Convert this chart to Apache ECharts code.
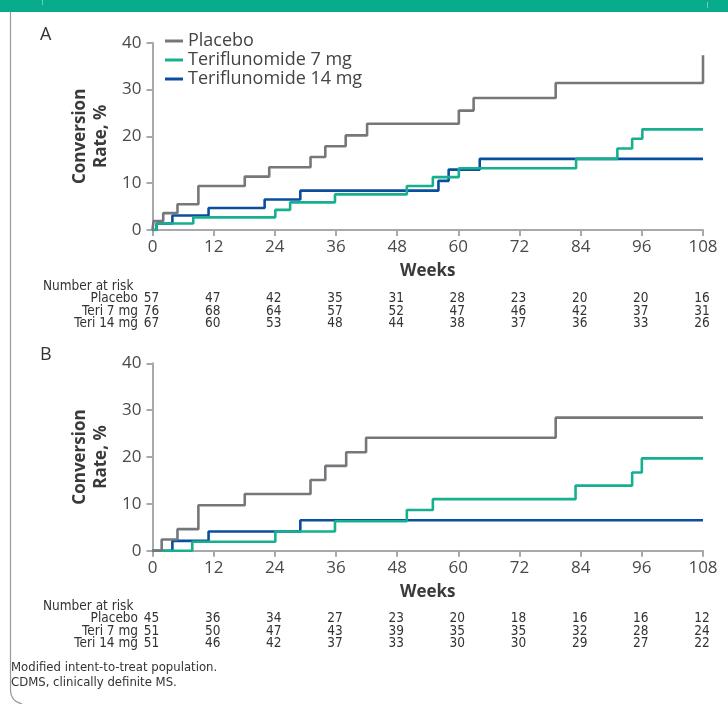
<!DOCTYPE html>
<html><head><meta charset="utf-8">
<script src="https://cdn.jsdelivr.net/npm/echarts@6/dist/echarts.min.js"></script>
<style>html,body{margin:0;padding:0;background:#fff}#c{width:728px;height:704px}</style>
</head><body><div id="c"></div>
<script>
// ---------- DATA ----------
const weekTicks = [0, 12, 24, 36, 48, 60, 72, 84, 96, 108];
const seriesNames = ['Placebo', 'Teriflunomide 7 mg', 'Teriflunomide 14 mg'];
const riskLabels = ['Placebo', 'Teri 7 mg', 'Teri 14 mg'];

// Panel A (step points: [week, cumulative conversion rate %])
const placeboA_weeks = [0, 0.2, 2.1, 4.9, 9.0, 18.1, 22.9, 31.0, 33.9, 37.9, 42.1, 60.1, 63.0, 79.1, 108, 108];
const placeboA_rates = [0, 1.9, 3.6, 5.5, 9.4, 11.4, 13.4, 15.6, 17.9, 20.2, 22.7, 25.5, 28.2, 31.4, 31.4, 37.3];
const teri7A_weeks = [0, 0.8, 8.0, 24.1, 27.0, 35.8, 49.9, 55.0, 60.1, 83.1, 91.2, 94.1, 96.1, 108];
const teri7A_rates = [0, 1.4, 2.7, 4.3, 5.9, 7.6, 9.4, 11.3, 13.2, 15.2, 17.4, 19.5, 21.5, 21.5];
const teri14A_weeks = [0, 0.8, 3.9, 11.0, 22.0, 29.0, 56.1, 58.1, 64.2, 108];
const teri14A_rates = [0, 1.4, 3.1, 4.7, 6.5, 8.4, 10.5, 12.9, 15.2, 15.2];

// Panel B
const placeboB_weeks = [0, 1.8, 4.9, 9.0, 18.1, 31.0, 33.9, 38.0, 41.9, 79.1, 108];
const placeboB_rates = [0, 2.4, 4.6, 9.7, 12.1, 15.1, 18.1, 21.0, 24.1, 28.4, 28.4];
const teri7B_weeks = [0, 7.8, 24.1, 35.8, 49.9, 55.0, 83.0, 94.1, 96.0, 108];
const teri7B_rates = [0, 1.9, 4.1, 6.3, 8.7, 11.0, 13.9, 16.7, 19.7, 19.7];
const teri14B_weeks = [0, 3.9, 11.0, 29.0, 108];
const teri14B_rates = [0, 2.1, 4.1, 6.5, 6.5];

// Number at risk
const riskA_placebo = [57, 47, 42, 35, 31, 28, 23, 20, 20, 16];
const riskA_teri7 = [76, 68, 64, 57, 52, 47, 46, 42, 37, 31];
const riskA_teri14 = [67, 60, 53, 48, 44, 38, 37, 36, 33, 26];
const riskB_placebo = [45, 36, 34, 27, 23, 20, 18, 16, 16, 12];
const riskB_teri7 = [51, 50, 47, 43, 39, 35, 35, 32, 28, 24];
const riskB_teri14 = [51, 46, 42, 37, 33, 30, 30, 29, 27, 22];

const footnotes = ['Modified intent-to-treat population.', 'CDMS, clinically definite MS.'];

// ---------- STYLE ----------
const colors = ['#76777a', '#16b08f', '#0a4f9e'];
const FONT = '"Open Sans", Lato, sans-serif';
const NARROW = '"Liberation Sans Narrow", "DejaVu Sans Condensed", sans-serif';

function zip(w, r) { return w.map((x, i) => [x, r[i]]); }

const chart = echarts.init(document.getElementById('c'), null, {renderer: 'canvas'});

function xAxisCfg(gi) {
  return {
    gridIndex: gi, type: 'value', min: 0, max: 108, interval: 12,
    name: 'Weeks', nameLocation: 'middle', nameGap: 33,
    nameTextStyle: {fontFamily: FONT, fontSize: 17, fontWeight: 'bold', color: '#3a3a3a'},
    axisLine: {show: true, lineStyle: {color: '#a9a9ad', width: 2}},
    axisTick: {show: true, length: 6, lineStyle: {color: '#a9a9ad', width: 2}},
    axisLabel: {fontFamily: FONT, fontSize: 17, color: '#4a4a4a', margin: 9},
    splitLine: {show: false}
  };
}
function yAxisCfg(gi) {
  return {
    gridIndex: gi, type: 'value', min: 0, max: 40, interval: 10,
    name: 'Conversion\nRate, %', nameLocation: 'middle', nameGap: 41, nameRotate: 90,
    nameTextStyle: {fontFamily: FONT, fontSize: 17, fontWeight: 'bold', color: '#3a3a3a', lineHeight: 21},
    axisLine: {show: true, lineStyle: {color: '#a9a9ad', width: 2}},
    axisTick: {show: true, length: 6, lineStyle: {color: '#a9a9ad', width: 2}},
    axisLabel: {fontFamily: FONT, fontSize: 17, color: '#4a4a4a', margin: 11},
    splitLine: {show: false}
  };
}
function stepSeries(name, data, gi, ci) {
  return {
    name: name, type: 'line', step: 'end', xAxisIndex: gi, yAxisIndex: gi,
    data: data, symbol: 'none', silent: true, animation: false,
    lineStyle: {color: colors[ci], width: 2.6}, itemStyle: {color: colors[ci]}
  };
}

const series = [
  stepSeries(seriesNames[0], zip(placeboA_weeks, placeboA_rates), 0, 0),
  stepSeries(seriesNames[1], zip(teri7A_weeks, teri7A_rates), 0, 1),
  stepSeries(seriesNames[2], zip(teri14A_weeks, teri14A_rates), 0, 2),
  stepSeries(seriesNames[0], zip(placeboB_weeks, placeboB_rates), 1, 0),
  stepSeries(seriesNames[1], zip(teri7B_weeks, teri7B_rates), 1, 1),
  stepSeries(seriesNames[2], zip(teri14B_weeks, teri14B_rates), 1, 2)
];
series.reverse();

chart.setOption({
  animation: false,
  backgroundColor: '#fff',
  grid: [
    {left: 152.5, right: 25, top: 42.7, height: 187.3},
    {left: 152.5, right: 25, top: 363.3, height: 187.4}
  ],
  xAxis: [xAxisCfg(0), xAxisCfg(1)],
  yAxis: [yAxisCfg(0), yAxisCfg(1)],
  legend: {
    data: seriesNames, orient: 'vertical', left: 160, top: 27,
    itemWidth: 18, itemHeight: 3, itemGap: 1, icon: 'rect',
    textStyle: {fontFamily: FONT, fontSize: 18, color: '#444', lineHeight: 18},
    selectedMode: false
  },
  series: series
});

// ---------- Number-at-risk tables, labels, frame ----------
const g = [];
g.push({type: 'rect', shape: {x: 0, y: 0, width: 728, height: 12}, style: {fill: '#08ab8b'}});
g.push({type: 'rect', shape: {x: 42, y: 0, width: 1, height: 5}, style: {fill: '#6fcdb9'}});
g.push({type: 'rect', shape: {x: 707, y: 2, width: 1, height: 6}, style: {fill: '#6fcdb9'}});
g.push({type: 'line', shape: {x1: 10.5, y1: 12, x2: 10.5, y2: 690}, style: {stroke: '#9a9a9a', lineWidth: 1.2}});
g.push({type: 'bezierCurve', shape: {x1: 10.5, y1: 690, cpx1: 10.5, cpy1: 701, x2: 22, y2: 704}, style: {stroke: '#9a9a9a', lineWidth: 1.2, fill: null}});

g.push({type: 'text', x: 40, y: 35, style: {text: 'A', font: '18px ' + FONT, fill: '#333', textVerticalAlign: 'middle'}});
g.push({type: 'text', x: 40, y: 355, style: {text: 'B', font: '18px ' + FONT, fill: '#333', textVerticalAlign: 'middle'}});

function riskTable(gi, rows, topY) {
  g.push({type: 'text', x: 43, y: topY, style: {text: 'Number at risk', font: '13.5px ' + NARROW, fill: '#333', textVerticalAlign: 'middle'}});
  rows.forEach((vals, ri) => {
    const y = topY + 12.5 * (ri + 1);
    g.push({type: 'text', x: 138, y: y, style: {text: riskLabels[ri], font: '13.5px ' + NARROW, fill: '#333', textAlign: 'right', textVerticalAlign: 'middle'}});
    vals.forEach((v, ci) => {
      const px = chart.convertToPixel({gridIndex: gi}, [weekTicks[ci], 0])[0];
      g.push({type: 'text', x: px - 1, y: y, style: {text: String(v), font: '13.5px ' + NARROW, fill: '#333', textAlign: 'center', textVerticalAlign: 'middle'}});
    });
  });
}
riskTable(0, [riskA_placebo, riskA_teri7, riskA_teri14], 286);
riskTable(1, [riskB_placebo, riskB_teri7, riskB_teri14], 606);

footnotes.forEach((t, i) => {
  g.push({type: 'text', x: 11, y: 667.5 + 15 * i, style: {text: t, font: '13px ' + NARROW, fill: '#333', textVerticalAlign: 'middle'}});
});

chart.setOption({graphic: g});
</script></body></html>
